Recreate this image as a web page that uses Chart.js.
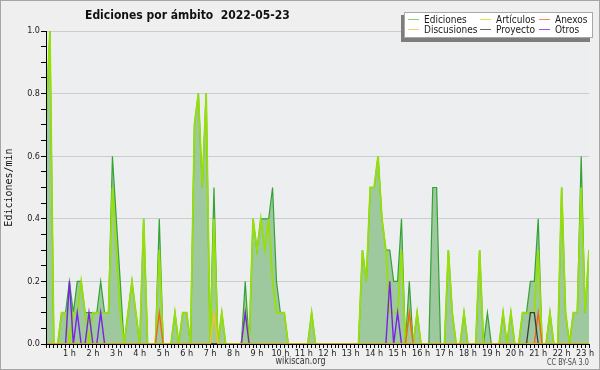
<!DOCTYPE html>
<html>
<head>
<meta charset="utf-8">
<script src="https://cdn.jsdelivr.net/npm/chart.js@4.4.1/dist/chart.umd.min.js"></script>
<style>
  html, body { margin: 0; padding: 0; background: #efefef; }
</style>
</head>
<body>
<canvas id="chart" width="600" height="370"></canvas>
<script>
// 10-minute slots of the day (00:00 ... 23:10)
const slots = Array.from({ length: 140 }, (_, i) => i);
const hourLabels = ['1 h', '2 h', '3 h', '4 h', '5 h', '6 h', '7 h', '8 h', '9 h', '10 h', '11 h', '12 h',
  '13 h', '14 h', '15 h', '16 h', '17 h', '18 h', '19 h', '20 h', '21 h', '22 h', '23 h'];
const yTickLabels = ['0.0', '0.2', '0.4', '0.6', '0.8', '1.0'];

// edits per minute, one value per 10-minute slot
const ediciones = [
  0.7, 1.0, 0, 0, 0.1, 0.1, 0.2, 0.1, 0.2, 0.2,
  0.1, 0.1, 0.1, 0.1, 0.2, 0.1, 0.1, 0.6, 0.4, 0.2,
  0, 0.1, 0.2, 0.1, 0, 0.4, 0, 0, 0, 0.4,
  0, 0, 0, 0.1, 0, 0.1, 0.1, 0, 0.7, 0.8,
  0.5, 0.8, 0, 0.5, 0, 0.1, 0, 0, 0, 0,
  0, 0.2, 0, 0.4, 0.3, 0.4, 0.4, 0.4, 0.5, 0.2,
  0.1, 0.1, 0, 0, 0, 0, 0, 0, 0.1, 0,
  0, 0, 0, 0, 0, 0, 0, 0, 0, 0,
  0, 0.3, 0.2, 0.5, 0.5, 0.6, 0.4, 0.3, 0.3, 0.2,
  0.2, 0.4, 0, 0.2, 0, 0.1, 0, 0, 0, 0.5,
  0.5, 0, 0, 0.3, 0.1, 0, 0, 0.1, 0, 0,
  0, 0.3, 0, 0.1, 0, 0, 0, 0.1, 0, 0.1,
  0, 0, 0.1, 0.1, 0.2, 0.2, 0.4, 0, 0, 0.1,
  0, 0, 0.5, 0.1, 0, 0.1, 0.1, 0.6, 0.1, 0.3
];
const articulos = [
  0.7, 1.0, 0, 0, 0.1, 0.1, 0, 0.1, 0.1, 0.2,
  0.1, 0, 0.1, 0.1, 0.1, 0.1, 0.1, 0.5, 0.3, 0.1,
  0, 0.1, 0.2, 0.1, 0, 0.4, 0, 0, 0, 0.3,
  0, 0, 0, 0.1, 0, 0.1, 0.1, 0, 0.7, 0.8,
  0.5, 0.8, 0, 0.4, 0, 0.1, 0, 0, 0, 0,
  0, 0.1, 0, 0.4, 0.3, 0.4, 0.3, 0.4, 0.2, 0.1,
  0.1, 0.1, 0, 0, 0, 0, 0, 0, 0.1, 0,
  0, 0, 0, 0, 0, 0, 0, 0, 0, 0,
  0, 0.3, 0.2, 0.5, 0.5, 0.6, 0.4, 0.3, 0.1, 0.1,
  0.1, 0.3, 0, 0.1, 0, 0.1, 0, 0, 0, 0,
  0, 0, 0, 0.3, 0.1, 0, 0, 0.1, 0, 0,
  0, 0.3, 0, 0, 0, 0, 0, 0.1, 0, 0.1,
  0, 0, 0.1, 0.1, 0.1, 0.1, 0.3, 0, 0, 0.1,
  0, 0, 0.5, 0.1, 0, 0.1, 0.1, 0.5, 0.1, 0.3
];
const discusiones = [
  0, 0, 0, 0, 0, 0, 0, 0, 0, 0,
  0, 0, 0, 0, 0, 0, 0, 0, 0, 0,
  0, 0, 0, 0, 0, 0, 0, 0, 0, 0,
  0, 0, 0, 0, 0, 0, 0, 0, 0, 0,
  0, 0, 0, 0.1, 0, 0, 0, 0, 0, 0,
  0, 0, 0, 0, 0, 0, 0, 0, 0, 0,
  0, 0, 0, 0, 0, 0, 0, 0, 0, 0,
  0, 0, 0, 0, 0, 0, 0, 0, 0, 0,
  0, 0, 0, 0, 0, 0, 0, 0, 0, 0,
  0, 0, 0, 0, 0, 0, 0, 0, 0, 0,
  0, 0, 0, 0, 0, 0, 0, 0, 0, 0,
  0, 0, 0, 0, 0, 0, 0, 0, 0, 0,
  0, 0, 0, 0, 0, 0, 0, 0, 0, 0,
  0, 0, 0, 0, 0, 0, 0, 0, 0, 0
];
const proyecto = [
  0, 0, 0, 0, 0, 0, 0, 0, 0, 0,
  0, 0, 0, 0, 0, 0, 0, 0, 0, 0,
  0, 0, 0, 0, 0, 0, 0, 0, 0, 0,
  0, 0, 0, 0, 0, 0, 0, 0, 0, 0,
  0, 0, 0, 0, 0, 0, 0, 0, 0, 0,
  0, 0, 0, 0, 0, 0, 0, 0, 0, 0,
  0, 0, 0, 0, 0, 0, 0, 0, 0, 0,
  0, 0, 0, 0, 0, 0, 0, 0, 0, 0,
  0, 0, 0, 0, 0, 0, 0, 0, 0, 0,
  0, 0, 0, 0, 0, 0, 0, 0, 0, 0,
  0, 0, 0, 0, 0, 0, 0, 0, 0, 0,
  0, 0, 0, 0, 0, 0, 0, 0, 0, 0,
  0, 0, 0, 0, 0.1, 0.1, 0, 0, 0, 0,
  0, 0, 0, 0, 0, 0, 0, 0, 0, 0
];
const anexos = [
  0, 0, 0, 0, 0, 0, 0, 0, 0, 0,
  0, 0, 0, 0, 0, 0, 0, 0, 0, 0,
  0, 0, 0, 0, 0, 0, 0, 0, 0, 0.1,
  0, 0, 0, 0, 0, 0, 0, 0, 0, 0,
  0, 0, 0, 0, 0, 0, 0, 0, 0, 0,
  0, 0, 0, 0, 0, 0, 0, 0, 0, 0,
  0, 0, 0, 0, 0, 0, 0, 0, 0, 0,
  0, 0, 0, 0, 0, 0, 0, 0, 0, 0,
  0, 0, 0, 0, 0, 0, 0, 0, 0, 0,
  0, 0, 0, 0.1, 0, 0, 0, 0, 0, 0,
  0, 0, 0, 0, 0, 0, 0, 0, 0, 0,
  0, 0, 0, 0, 0, 0, 0, 0, 0, 0,
  0, 0, 0, 0, 0, 0, 0.1, 0, 0, 0,
  0, 0, 0, 0, 0, 0, 0, 0, 0, 0
];
const otros = [
  0, 0, 0, 0, 0, 0, 0.2, 0, 0.1, 0,
  0, 0.1, 0, 0, 0.1, 0, 0, 0, 0, 0,
  0, 0, 0, 0, 0, 0, 0, 0, 0, 0,
  0, 0, 0, 0, 0, 0, 0, 0, 0, 0,
  0, 0, 0, 0, 0, 0, 0, 0, 0, 0,
  0, 0.1, 0, 0, 0, 0, 0, 0, 0, 0,
  0, 0, 0, 0, 0, 0, 0, 0, 0, 0,
  0, 0, 0, 0, 0, 0, 0, 0, 0, 0,
  0, 0, 0, 0, 0, 0, 0, 0, 0.2, 0,
  0.1, 0, 0, 0, 0, 0, 0, 0, 0, 0,
  0, 0, 0, 0, 0, 0, 0, 0, 0, 0,
  0, 0, 0, 0, 0, 0, 0, 0, 0, 0,
  0, 0, 0, 0, 0, 0, 0, 0, 0, 0,
  0, 0, 0, 0, 0, 0, 0, 0, 0, 0
];

const FONT = "'DejaVu Sans Condensed', 'DejaVu Sans', sans-serif";

function points(values) {
  return slots.map((s, i) => ({ x: s, y: values[i] }));
}

function line(label, values, color, width, order) {
  return {
    label: label,
    data: points(values),
    borderColor: color,
    borderWidth: width,
    pointRadius: 0,
    tension: 0,
    fill: false,
    order: order
  };
}

// page furniture: background, axes on top, title, legend box, footer
const decor = {
  id: 'decor',
  beforeDraw(chart) {
    const { ctx, chartArea: a } = chart;
    ctx.save();
    ctx.fillStyle = '#efefef';
    ctx.fillRect(0, 0, chart.width, chart.height);
    ctx.fillStyle = '#edeef0';
    ctx.fillRect(a.left, a.top, a.right - a.left, a.bottom - a.top);
    ctx.restore();
  },
  afterDatasetsDraw(chart) {
    const { ctx, chartArea: a } = chart;
    ctx.save();
    ctx.strokeStyle = '#000';
    ctx.lineWidth = 1;
    ctx.beginPath();
    ctx.moveTo(a.left + 0.5, a.top);
    ctx.lineTo(a.left + 0.5, a.bottom + 0.5);
    ctx.lineTo(a.right + 1, a.bottom + 0.5);
    ctx.stroke();
    ctx.restore();
  },
  afterDraw(chart) {
    const ctx = chart.ctx;
    ctx.save();

    // title
    ctx.fillStyle = '#111';
    ctx.font = 'bold 12px ' + FONT;
    ctx.textAlign = 'left';
    ctx.textBaseline = 'alphabetic';
    ctx.fillText('Ediciones por ámbito  2022-05-23', 85, 18.5, 208);

    // legend box with shadow
    ctx.fillStyle = '#7d7d7d';
    ctx.fillRect(401, 15, 189, 27);
    ctx.fillStyle = '#ffffff';
    ctx.fillRect(404, 12, 189, 26);
    ctx.strokeStyle = '#a8a8a8';
    ctx.lineWidth = 1;
    ctx.strokeRect(404.5, 12.5, 188, 25);

    const ds = chart.data.datasets;
    const slotsPos = [
      [0, 408, 19.5], [1, 480, 19.5], [4, 539, 19.5],
      [2, 408, 29.5], [3, 480, 29.5], [5, 539, 29.5]
    ];
    ctx.font = '10px ' + FONT;
    slotsPos.forEach(([k, x, y]) => {
      ctx.strokeStyle = ds[k].legendColor || ds[k].borderColor;
      ctx.lineWidth = 1;
      ctx.beginPath();
      ctx.moveTo(x, y);
      ctx.lineTo(x + 11, y);
      ctx.stroke();
      ctx.fillStyle = '#1a1a1a';
      ctx.fillText(ds[k].label, x + 16, y + 3.5);
    });

    // footer
    ctx.fillStyle = '#333';
    ctx.font = '10px ' + FONT;
    ctx.textAlign = 'center';
    ctx.fillText('wikiscan.org', 300.5, 364, 50);
    ctx.font = '8px ' + FONT;
    ctx.textAlign = 'right';
    ctx.fillStyle = '#444';
    ctx.fillText('CC BY-SA 3.0', 589, 364.5, 42);

    // outer frame
    ctx.strokeStyle = '#a6a6a6';
    ctx.strokeRect(0.5, 0.5, chart.width - 1, chart.height - 1);
    ctx.restore();
  }
};

const ctx = document.getElementById('chart').getContext('2d');
const chart = new Chart(ctx, {
  type: 'line',
  data: {
    datasets: [
      Object.assign(line('Ediciones', ediciones, '#33a333', 1.2, 10), {
        fill: 'origin',
        backgroundColor: '#9ec99e',
        legendColor: '#86cc86'
      }),
      Object.assign(line('Artículos', articulos, '#97df0a', 1.8, 5), { legendColor: '#c6ee55' }),
      Object.assign(line('Discusiones', discusiones, '#f0c41c', 1.4, 1), { legendColor: '#f2d46a' }),
      Object.assign(line('Proyecto', proyecto, '#3c3c3c', 1.3, 1), { legendColor: '#666666' }),
      Object.assign(line('Anexos', anexos, '#f0661e', 1.4, 1), { legendColor: '#f28a5c' }),
      Object.assign(line('Otros', otros, '#7a22e8', 1.4, 1), { legendColor: '#9b55ee' })
    ]
  },
  options: {
    responsive: false,
    animation: false,
    events: [],
    layout: {
      padding: { top: 31, right: 11, left: 0, bottom: 0 }
    },
    plugins: {
      legend: { display: false },
      title: { display: false },
      tooltip: { enabled: false }
    },
    scales: {
      x: {
        type: 'linear',
        min: 0,
        max: slots[slots.length - 1],
        afterFit(scale) { scale.height = 26; },
        border: { color: '#000', width: 1 },
        grid: {
          drawOnChartArea: false,
          drawTicks: true,
          tickLength: 4,
          tickColor: '#000'
        },
        ticks: {
          stepSize: 1,
          autoSkip: false,
          maxTicksLimit: 1000,
          maxRotation: 0,
          minRotation: 0,
          padding: 0,
          color: '#222',
          font: { family: FONT, size: 9 },
          callback: function(v) {
            return (v % 6 === 0 && v > 0) ? hourLabels[v / 6 - 1] : '';
          }
        }
      },
      y: {
        min: 0,
        max: 1,
        afterFit(scale) { scale.width = 46; },
        border: { color: '#000', width: 1 },
        grid: {
          color: function(c) {
            if (!c.tick) return 'rgba(0,0,0,0)';
            const k = Math.round(c.tick.value * 100);
            return (k % 20 === 0 && k > 0) ? '#cccccc' : 'rgba(0,0,0,0)';
          },
          tickColor: '#000',
          tickLength: 5
        },
        ticks: {
          stepSize: 0.05,
          maxTicksLimit: 100,
          padding: 1,
          color: '#222',
          font: { family: FONT, size: 9 },
          callback: function(v) {
            const k = Math.round(v * 100);
            return k % 20 === 0 ? yTickLabels[k / 20] : '';
          }
        },
        title: {
          display: true,
          text: 'Ediciones/min',
          color: '#111',
          padding: { top: 3, bottom: 0 },
          font: { family: "'DejaVu Sans Mono', monospace", size: 10 }
        }
      }
    }
  },
  plugins: [decor]
});
</script>
</body>
</html>
